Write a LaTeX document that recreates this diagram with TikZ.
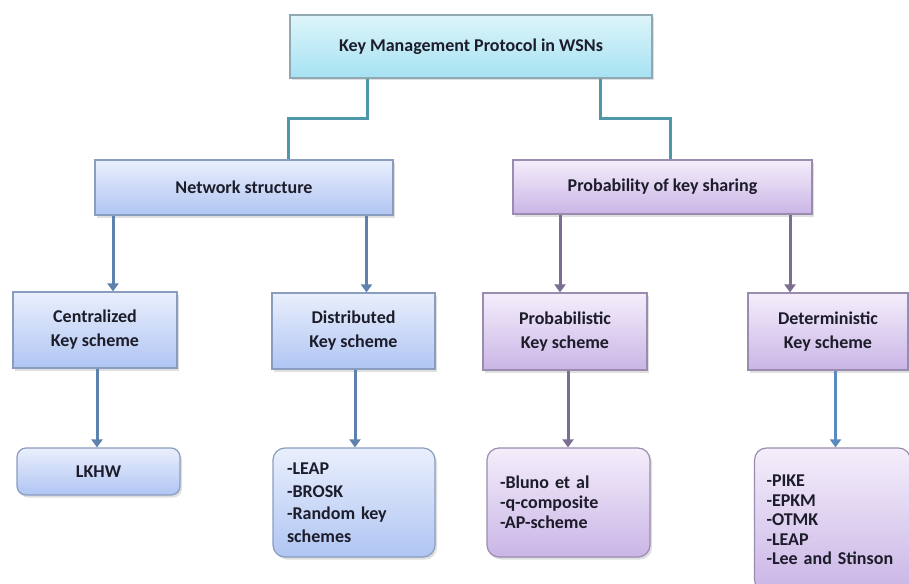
\documentclass[tikz,border=0pt]{standalone}
\usepackage{fontspec}
\setmainfont{Carlito}
\usetikzlibrary{arrows.meta,shadows}
\definecolor{txt}{HTML}{1C1C2A}
\definecolor{teal}{HTML}{4E97A8}
\definecolor{barrow}{HTML}{5D82AD}
\definecolor{parrow}{HTML}{7B6E92}
\definecolor{darrow}{HTML}{5B8AC0}
\definecolor{bborder}{HTML}{8A9DBE}
\definecolor{pborder}{HTML}{9A8CAE}
\definecolor{cborder}{HTML}{8FA8B2}
\definecolor{btop}{HTML}{E9EFFC}
\definecolor{bbot}{HTML}{B0C5F3}
\definecolor{ptop}{HTML}{F4EEFB}
\definecolor{pbot}{HTML}{CAB5E6}
\definecolor{topc}{HTML}{DDF4FA}
\definecolor{botc}{HTML}{A6E2F2}
\tikzset{
  base/.style={draw, line width=1.2pt, text=txt, font=\bfseries\fontsize{18}{24}\selectfont,
    align=center, inner sep=0pt,
    drop shadow={opacity=0.25, shadow xshift=2pt, shadow yshift=-2.5pt}},
  bluebox/.style={base, draw=bborder, top color=btop, bottom color=bbot},
  purpbox/.style={base, draw=pborder, top color=ptop, bottom color=pbot},
  listb/.style={rounded corners=12pt, align=left, inner xsep=13pt},
  conn/.style={draw=teal, line width=3pt},
  barr/.style={draw=barrow, line width=3pt, -{Triangle[width=11pt,length=8pt]}},
  parr/.style={draw=parrow, line width=3pt, -{Triangle[width=11pt,length=8pt]}},
  darr/.style={draw=darrow, line width=3pt, -{Triangle[width=11pt,length=8pt]}},
}
\begin{document}
\begin{tikzpicture}[x=1pt,y=-1pt]
\useasboundingbox[fill=white] (0,0) rectangle (909,583);
% level 0
\node[base, draw=cborder, top color=topc, bottom color=botc, minimum width=362pt, minimum height=63pt] (top) at (471,46.5) {Key Management Protocol in WSNs};
% level 1
\node[bluebox, minimum width=298pt, minimum height=55pt] (ns) at (244,187.5) {Network structure};
\node[purpbox, minimum width=299pt, minimum height=54pt] (pks) at (662.5,187) {Probability of key sharing};
% level 2
\node[bluebox, minimum width=164pt, minimum height=76pt] (cent) at (95,330) {Centralized\\Key scheme};
\node[bluebox, minimum width=163pt, minimum height=76pt] (dist) at (353.5,331) {Distributed\\Key scheme};
\node[purpbox, minimum width=164pt, minimum height=77pt] (prob) at (565,331.5) {Probabilistic\\Key scheme};
\node[purpbox, minimum width=160pt, minimum height=77pt] (det) at (828,331.5) {Deterministic\\Key scheme};
% level 3
\node[bluebox, rounded corners=9pt, minimum width=163pt, minimum height=47pt] (lkhw) at (98.5,471.5) {LKHW};
\node[bluebox, listb, inner xsep=14pt, text width=134pt, minimum height=109pt, font=\bfseries\fontsize{18}{22.5}\selectfont] (distl) at (354,502.5) {-LEAP\\-BROSK\\-Random key\\schemes};
\node[purpbox, listb, text width=137pt, minimum height=109pt, font=\bfseries\fontsize{18}{20}\selectfont] (probl) at (568.5,502.5) {-Bluno et al\\-q-composite\\-AP-scheme};
\node[purpbox, listb, inner xsep=12pt, text width=132pt, minimum height=144pt, font=\bfseries\fontsize{18}{19.5}\selectfont] (detl) at (832.5,520) {-PIKE\\-EPKM\\-OTMK\\-LEAP\\-Lee and Stinson};
% connectors
\draw[conn] ([xshift=-104pt]top.south) |- ([xshift=44pt]ns.north |- 0,118) -- ([xshift=44pt]ns.north);
\draw[conn] ([xshift=129pt]top.south) |- ([xshift=7.5pt]pks.north |- 0,118) -- ([xshift=7.5pt]pks.north);
\draw[barr] ([xshift=18pt]cent.north |- ns.south) -- ([xshift=18pt]cent.north);
\draw[barr] ([xshift=13pt]dist.north |- ns.south) -- ([xshift=13pt]dist.north);
\draw[parr] ([xshift=-5pt]prob.north |- pks.south) -- ([xshift=-5pt]prob.north);
\draw[parr] ([xshift=-38pt]det.north |- pks.south) -- ([xshift=-38pt]det.north);
\draw[barr] ([xshift=2pt]cent.south) -- ([xshift=2pt]cent.south |- lkhw.north);
\draw[barr] ([xshift=1.5pt]dist.south) -- ([xshift=1.5pt]dist.south |- distl.north);
\draw[parr] ([xshift=3pt]prob.south) -- ([xshift=3pt]prob.south |- probl.north);
\draw[darr] ([xshift=7.5pt]det.south) -- ([xshift=7.5pt]det.south |- detl.north);
\end{tikzpicture}
\end{document}
